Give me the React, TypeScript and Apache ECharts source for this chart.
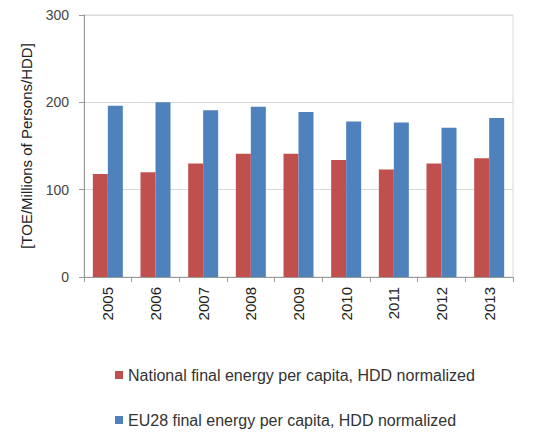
import React, { useEffect, useRef } from "react";
import * as echarts from "echarts";

const years = ["2005", "2006", "2007", "2008", "2009", "2010", "2011", "2012", "2013"];
const nationalValues = [118, 120, 130, 141, 141, 134, 123, 130, 136];
const eu28Values = [196, 200, 191, 195, 189, 178, 177, 171, 182];
const seriesNames = [
  "National final energy per capita, HDD normalized",
  "EU28 final energy per capita, HDD normalized",
];

export default function App() {
  const ref = useRef<HTMLDivElement>(null);
  useEffect(() => {
    if (!ref.current) return;
    const chart = echarts.init(ref.current, null, { renderer: "svg" });
    const font = "Liberation Sans, Arial, sans-serif";
    chart.setOption({
      animation: false,
      backgroundColor: "#ffffff",
      textStyle: { fontFamily: font },
      grid: { left: 84, right: 29, top: 15, bottom: 156, show: true, borderColor: "#d9d9d9", borderWidth: 1 },
      legend: {
        orient: "vertical",
        left: 110,
        top: 362,
        itemGap: 29,
        itemWidth: 8,
        itemHeight: 8,
        icon: "rect",
        textStyle: { fontSize: 16, color: "#333", fontFamily: font },
        data: seriesNames,
      },
      xAxis: {
        type: "category",
        data: years,
        axisLine: { lineStyle: { color: "#999" } },
        axisTick: { show: true, length: 5, lineStyle: { color: "#999" } },
        axisLabel: { rotate: 90, fontSize: 15, color: "#222", margin: 10 },
      },
      yAxis: {
        type: "value",
        min: 0,
        max: 300,
        interval: 100,
        name: "[TOE/Millions of Persons/HDD]",
        nameLocation: "middle",
        nameRotate: 90,
        nameGap: 50,
        nameTextStyle: { fontSize: 15, color: "#222" },
        axisLine: { show: true, lineStyle: { color: "#999" } },
        axisTick: { show: true, length: 5, lineStyle: { color: "#999" } },
        axisLabel: { fontSize: 14, color: "#444", margin: 15 },
        splitLine: { lineStyle: { color: "#d9d9d9" } },
      },
      series: [
        {
          name: seriesNames[0],
          type: "bar",
          data: nationalValues,
          barWidth: 15,
          barGap: "0%",
          itemStyle: { color: "#C0504D" },
        },
        {
          name: seriesNames[1],
          type: "bar",
          data: eu28Values,
          barWidth: 15,
          barGap: "0%",
          itemStyle: { color: "#4F81BD" },
        },
      ],
    });
    return () => chart.dispose();
  }, []);
  return <div ref={ref} style={{ width: 542, height: 433, position: "absolute", left: 0, top: 0 }} />;
}
